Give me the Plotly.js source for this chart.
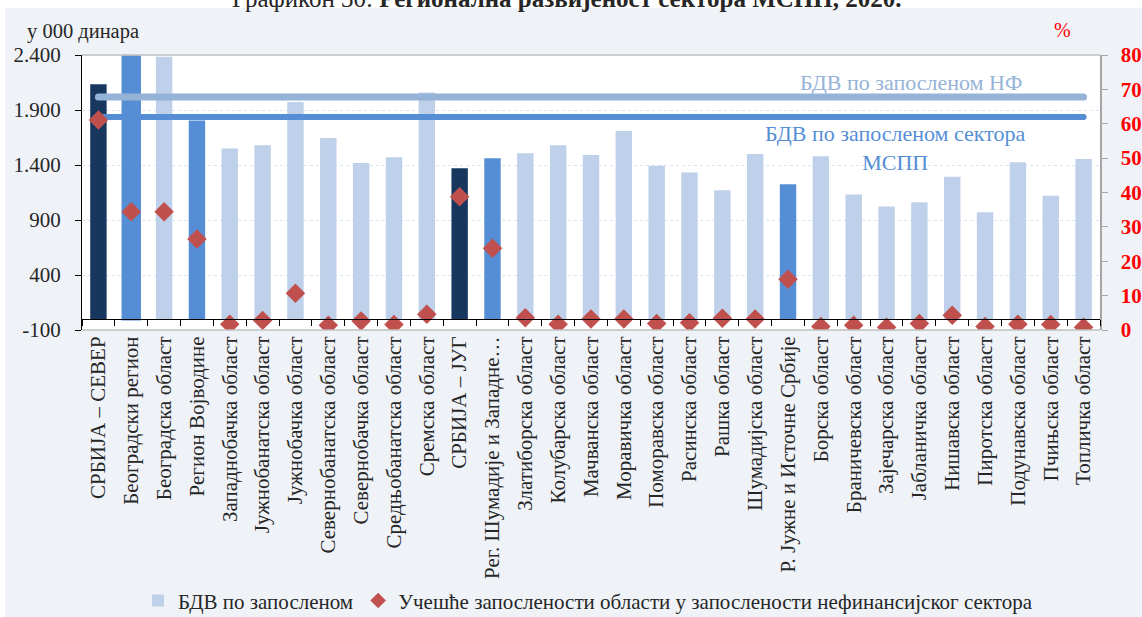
<!DOCTYPE html>
<html><head><meta charset="utf-8">
<script src="https://cdn.plot.ly/plotly-3.0.1.min.js"></script>
<style>
html,body{margin:0;padding:0;background:#ffffff;overflow:hidden;}
#panel{position:absolute;left:5px;top:8px;width:1137px;height:609px;background:#eff3f8;}
#chart{position:absolute;left:0;top:0;width:1142px;height:617px;}
.scatterlayer .trace path.js-line{stroke-linecap:round;}
</style></head>
<body><div id="panel"></div><div id="chart"></div>
<script>
const categories = [
  'СРБИЈА – СЕВЕР','Београдски регион','Београдска област','Регион Војводине',
  'Западнобачка област','Јужнобанатска област','Јужнобачка област','Севернобанатска област',
  'Севернобачка област','Средњобанатска област','Сремска област','СРБИЈА – ЈУГ',
  'Рег. Шумадије и Западне…','Златиборска област','Колубарска област','Мачванска област',
  'Моравичка област','Поморавска област','Расинска област','Рашка област',
  'Шумадијска област','Р. Јужне и Источне Србије','Борска област','Браничевска област',
  'Зајечарска област','Јабланичка област','Нишавска област','Пиротска област',
  'Подунавска област','Пчињска област','Топличка област'
];
// БДВ по запосленом, у 000 динара
const bdv = [
  2133, 2385, 2385, 1805, 1549, 1579, 1973, 1645, 1418, 1470, 2058, 1370,
  1461, 1506, 1579, 1491, 1709, 1394, 1331, 1170, 1500, 1224, 1479, 1131,
  1022, 1061, 1294, 970, 1424, 1121, 1454
];
// level of each category: total / region / district
const level = [
  'total','region','district','region','district','district','district','district',
  'district','district','district','total','region','district','district','district',
  'district','district','district','district','district','region','district','district',
  'district','district','district','district','district','district','district'
];
// Учешће запослености области у запослености нефинансијског сектора, %
const share = [
  61.1, 34.4, 34.4, 26.5, 1.7, 2.8, 10.7, 1.4, 2.6, 1.6, 4.6, 38.8,
  23.8, 3.6, 1.7, 3.2, 3.2, 1.9, 2.1, 3.4, 3.2, 14.8, 1.0, 1.4,
  0.8, 1.9, 4.3, 1.0, 1.7, 1.6, 0.8
];
const nfLevel = 2018;    // БДВ по запосленом НФ
const msppLevel = 1836;  // БДВ по запосленом сектора МСПП
const leftTickVals = [-100, 400, 900, 1400, 1900, 2400];
const leftTickText = ['-100', '400', '900', '1.400', '1.900', '2.400'];
const rightTickVals = [0, 10, 20, 30, 40, 50, 60, 70, 80];

const FONT = "'Liberation Serif', 'Times New Roman', Times, serif";
const TXT = '#262626';
const colors = {total: '#17375e', region: '#558ed5', district: '#bfd0ea'};

function pick(g) { return bdv.map((v, i) => level[i] === g ? v : null); }

const traces = [
  {type: 'bar', x: categories, y: pick('district'), name: 'БДВ по запосленом',
   width: 0.5, marker: {color: colors.district}, showlegend: true, hoverinfo: 'x+y'},
  {type: 'bar', x: categories, y: pick('region'), name: 'region',
   width: 0.5, marker: {color: colors.region,
     line: {color: colors.region, width: categories.map((c, i) => i === 1 ? 3 : 0)}},
   showlegend: false},
  {type: 'bar', x: categories, y: pick('total'), name: 'total',
   width: 0.5, marker: {color: colors.total}, showlegend: false},
  {type: 'scatter', mode: 'lines', x: [categories[0], categories[categories.length - 1]],
   y: [nfLevel, nfLevel], line: {color: '#95b3d7', width: 7}, showlegend: false,
   name: 'БДВ по запосленом НФ'},
  {type: 'scatter', mode: 'lines', x: [categories[0], categories[categories.length - 1]],
   y: [msppLevel, msppLevel], line: {color: '#558ed5', width: 6}, showlegend: false,
   name: 'БДВ по запосленом сектора МСПП'},
  {type: 'scatter', mode: 'markers', x: categories, y: share, yaxis: 'y2',
   name: 'Учешће запослености области у запослености нефинансијског сектора',
   marker: {symbol: 'diamond', size: 15, color: '#c0504d'}}
];

const layout = {
  width: 1142, height: 617,
  margin: {l: 82, r: 42, t: 55, b: 287, pad: 0, autoexpand: false},
  paper_bgcolor: 'rgba(0,0,0,0)',
  plot_bgcolor: '#ffffff',
  font: {family: FONT, size: 21, color: TXT},
  barmode: 'overlay',
  showlegend: true,
  legend: {orientation: 'h', x: 0.497, xanchor: 'center', y: -0.985, yanchor: 'middle',
    font: {family: FONT, size: 21, color: TXT}, bgcolor: 'rgba(0,0,0,0)',
    itemwidth: 30, itemsizing: 'constant', traceorder: 'normal'},
  xaxis: {type: 'category', range: [-0.5, categories.length - 0.5], autorange: false,
    anchor: 'free', position: 0.04,
    showline: true, linecolor: '#000000', linewidth: 1,
    ticks: 'outside', tickson: 'boundaries', ticklen: 6, tickcolor: '#000000',
    tickangle: -90, tickfont: {family: FONT, size: 21, color: TXT},
    ticklabelstandoff: 8, showgrid: false, zeroline: false, fixedrange: true},
  yaxis: {range: [-100, 2400], tickvals: leftTickVals, ticktext: leftTickText,
    showline: true, linecolor: '#000000', linewidth: 1,
    ticks: 'outside', ticklen: 6, tickcolor: '#000000',
    tickfont: {family: FONT, size: 21, color: TXT}, ticklabelstandoff: 10,
    showgrid: true, gridcolor: '#dbe5f1', griddash: 'dot', gridwidth: 1,
    zeroline: false},
  yaxis2: {range: [0, 80], overlaying: 'y', side: 'right', tickvals: rightTickVals,
    showline: true, linecolor: '#a6a6a6', linewidth: 1.5,
    ticks: 'outside', ticklen: 6, tickcolor: '#a6a6a6',
    tickfont: {family: FONT, size: 21, color: '#ff0000', weight: 'bold'},
    ticklabelstandoff: 9, showgrid: false, zeroline: false},
  shapes: [
    {type: 'line', xref: 'paper', yref: 'paper', x0: 0, x1: 1, y0: 1, y1: 1,
     line: {color: '#bfbfbf', width: 1.5}},
    {type: 'line', xref: 'paper', yref: 'paper', x0: 0, x1: 1, y0: 0, y1: 0,
     line: {color: '#bfbfbf', width: 1.5}}
  ],
  annotations: [
    {xref: 'paper', yref: 'paper', x: 0.476, y: 1, xanchor: 'center', yanchor: 'bottom',
     yshift: 41, showarrow: false,
     text: 'Графикон 30: <b>Регионална развијеност сектора МСПП, 2020.</b>',
     font: {family: FONT, size: 25, color: TXT}},
    {xref: 'paper', yref: 'paper', x: 0.058, y: 1.087, xanchor: 'right', yanchor: 'middle',
     showarrow: false, text: 'у 000 динара', font: {family: FONT, size: 20.5, color: TXT}},
    {xref: 'paper', yref: 'paper', x: 0.9627, y: 1.0909, xanchor: 'center', yanchor: 'middle',
     showarrow: false, text: '%', font: {family: FONT, size: 20, color: '#ff0000'}},
    {xref: 'paper', yref: 'paper', x: 0.8143, y: 0.9018, xanchor: 'center', yanchor: 'middle',
     showarrow: false, text: 'БДВ по запосленом НФ', font: {family: FONT, size: 22, color: '#95b3d7'}},
    {xref: 'paper', yref: 'paper', x: 0.7996, y: 0.6636, xanchor: 'center', yanchor: 'middle',
     showarrow: false, text: 'БДВ по запосленом сектора<br>МСПП',
     font: {family: FONT, size: 22, color: '#558ed5'}}
  ]
};

Plotly.newPlot('chart', traces, layout, {displayModeBar: false, staticPlot: true});
</script>
</body></html>
